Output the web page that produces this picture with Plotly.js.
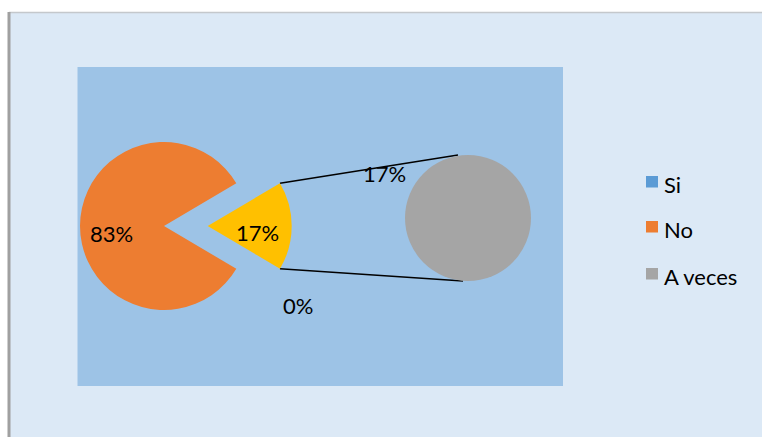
<!DOCTYPE html>
<html>
<head>
<meta charset="utf-8">
<script src="https://cdn.plot.ly/plotly-3.0.1.min.js"></script>
<style>html,body{margin:0;padding:0;background:#fff;}#chart{width:762px;height:437px;}</style>
</head>
<body>
<div id="chart"></div>
<script>
// ---- data ----
const categories = ['Si', 'No', 'A veces'];
const values = [0, 83, 17];
const colors = ['#5b9bd5', '#ed7d31', '#a5a5a5'];
const otherLabel = 'Otros';
const otherColor = '#ffc000';

// ---- geometry (pixels) ----
const W = 762, H = 437;
const FONT = 'Lato, "Open Sans", sans-serif';
const main = {cx: 164, cy: 226, r: 84, pull: 0.52};
const sec = {cx: 468, cy: 218, r: 63};
const fx = p => p / W;
const fy = p => 1 - p / H;

const total = values.reduce((a, b) => a + b, 0);
const otherVal = values[0] + values[2];
const pct = v => Math.round(v / total * 100) + '%';

// main pie: first slice is the "other" group centred at 3 o'clock
const otherDeg = 360 * otherVal / total;
const rotation = 90 - otherDeg / 2;
const half1 = main.r * (1 + main.pull);

const traces = [
  {
    type: 'pie',
    labels: [otherLabel, categories[1]],
    values: [otherVal, values[1]],
    marker: {colors: [otherColor, colors[1]]},
    sort: false, direction: 'clockwise', rotation: rotation,
    pull: [main.pull, 0],
    textinfo: 'none',
    showlegend: false, hoverinfo: 'label+percent',
    domain: {x: [fx(main.cx - half1), fx(main.cx + half1)], y: [fy(main.cy + half1), fy(main.cy - half1)]}
  },
  {
    type: 'pie',
    labels: [categories[2], categories[0]],
    values: [values[2], values[0]],
    marker: {colors: [colors[2], colors[0]]},
    sort: false, direction: 'clockwise',
    textinfo: 'none', showlegend: false, hoverinfo: 'label+value',
    domain: {x: [fx(sec.cx - sec.r), fx(sec.cx + sec.r)], y: [fy(sec.cy + sec.r), fy(sec.cy - sec.r)]}
  }
];

// connector lines from the pulled "other" slice to the secondary pie
const midRad = (rotation + otherDeg / 2) * Math.PI / 180;
const pcx = main.cx + main.pull * main.r * Math.sin(midRad);
const pcy = main.cy - main.pull * main.r * Math.cos(midRad);
const a0 = rotation * Math.PI / 180, a1 = (rotation + otherDeg) * Math.PI / 180;
const c0 = [pcx + main.r * Math.sin(a0), pcy - main.r * Math.cos(a0)];
const c1 = [pcx + main.r * Math.sin(a1), pcy - main.r * Math.cos(a1)];

const shapes = [
  // outer chart area
  {type: 'rect', xref: 'paper', yref: 'paper', x0: fx(9), x1: fx(W + 5), y0: fy(13), y1: fy(H + 5),
   fillcolor: '#dce9f6', line: {width: 0}, layer: 'below'},
  {type: 'line', xref: 'paper', yref: 'paper', x0: fx(9), x1: fx(W + 5), y0: fy(12.5), y1: fy(12.5),
   line: {color: '#c4c8cc', width: 1.5}, layer: 'below'},
  {type: 'line', xref: 'paper', yref: 'paper', x0: fx(9), x1: fx(9), y0: fy(12), y1: fy(H + 5),
   line: {color: '#a0a0a0', width: 3}, layer: 'below'},
  // plot area
  {type: 'rect', xref: 'paper', yref: 'paper', x0: fx(77.5), x1: fx(563), y0: fy(67), y1: fy(386),
   fillcolor: '#9dc3e6', line: {width: 0}, layer: 'below'},
  // connector lines
  {type: 'line', xref: 'paper', yref: 'paper', x0: fx(c0[0]), y0: fy(c0[1]), x1: fx(sec.cx - 10), y1: fy(sec.cy - sec.r),
   line: {color: '#000', width: 1.3}, layer: 'below'},
  {type: 'line', xref: 'paper', yref: 'paper', x0: fx(c1[0]), y0: fy(c1[1]), x1: fx(sec.cx - 5), y1: fy(sec.cy + sec.r),
   line: {color: '#000', width: 1.3}, layer: 'below'}
];

// data labels
const labelFont = {family: FONT, size: 22, color: '#000'};
const annotations = [
  {text: pct(values[1]), x: fx(main.cx - 52.5), y: fy(main.cy + 7.5)},
  {text: pct(otherVal), x: fx(pcx + 50), y: fy(pcy + 7)},
  {text: pct(values[2]), x: fx(sec.cx - 1.33 * sec.r), y: fy(sec.cy - 0.71 * sec.r)},
  {text: pct(values[0]), x: fx(sec.cx - 2.7 * sec.r), y: fy(sec.cy + 1.39 * sec.r)}
].map(a => Object.assign(a, {xref: 'paper', yref: 'paper', xanchor: 'center', yanchor: 'middle',
  showarrow: false, font: labelFont}));

// legend
const legX = 646, legText = 662;
const legTop = [176, 221, 268];
categories.forEach((c, i) => {
  shapes.push({type: 'rect', xref: 'paper', yref: 'paper',
    x0: fx(legX), x1: fx(legX + 12), y0: fy(legTop[i]), y1: fy(legTop[i] + 11.5),
    fillcolor: colors[i], line: {width: 0}});
  annotations.push({text: c, xref: 'paper', yref: 'paper', x: fx(legText), y: fy(legTop[i] + 8.5),
    xanchor: 'left', yanchor: 'middle', showarrow: false, font: labelFont});
});

const layout = {
  width: W, height: H,
  margin: {l: 0, r: 0, t: 0, b: 0},
  paper_bgcolor: '#ffffff',
  showlegend: false,
  font: {family: FONT, size: 22, color: '#000'},
  shapes: shapes,
  annotations: annotations
};

Plotly.newPlot('chart', traces, layout, {displayModeBar: false, staticPlot: true});
</script>
</body>
</html>
